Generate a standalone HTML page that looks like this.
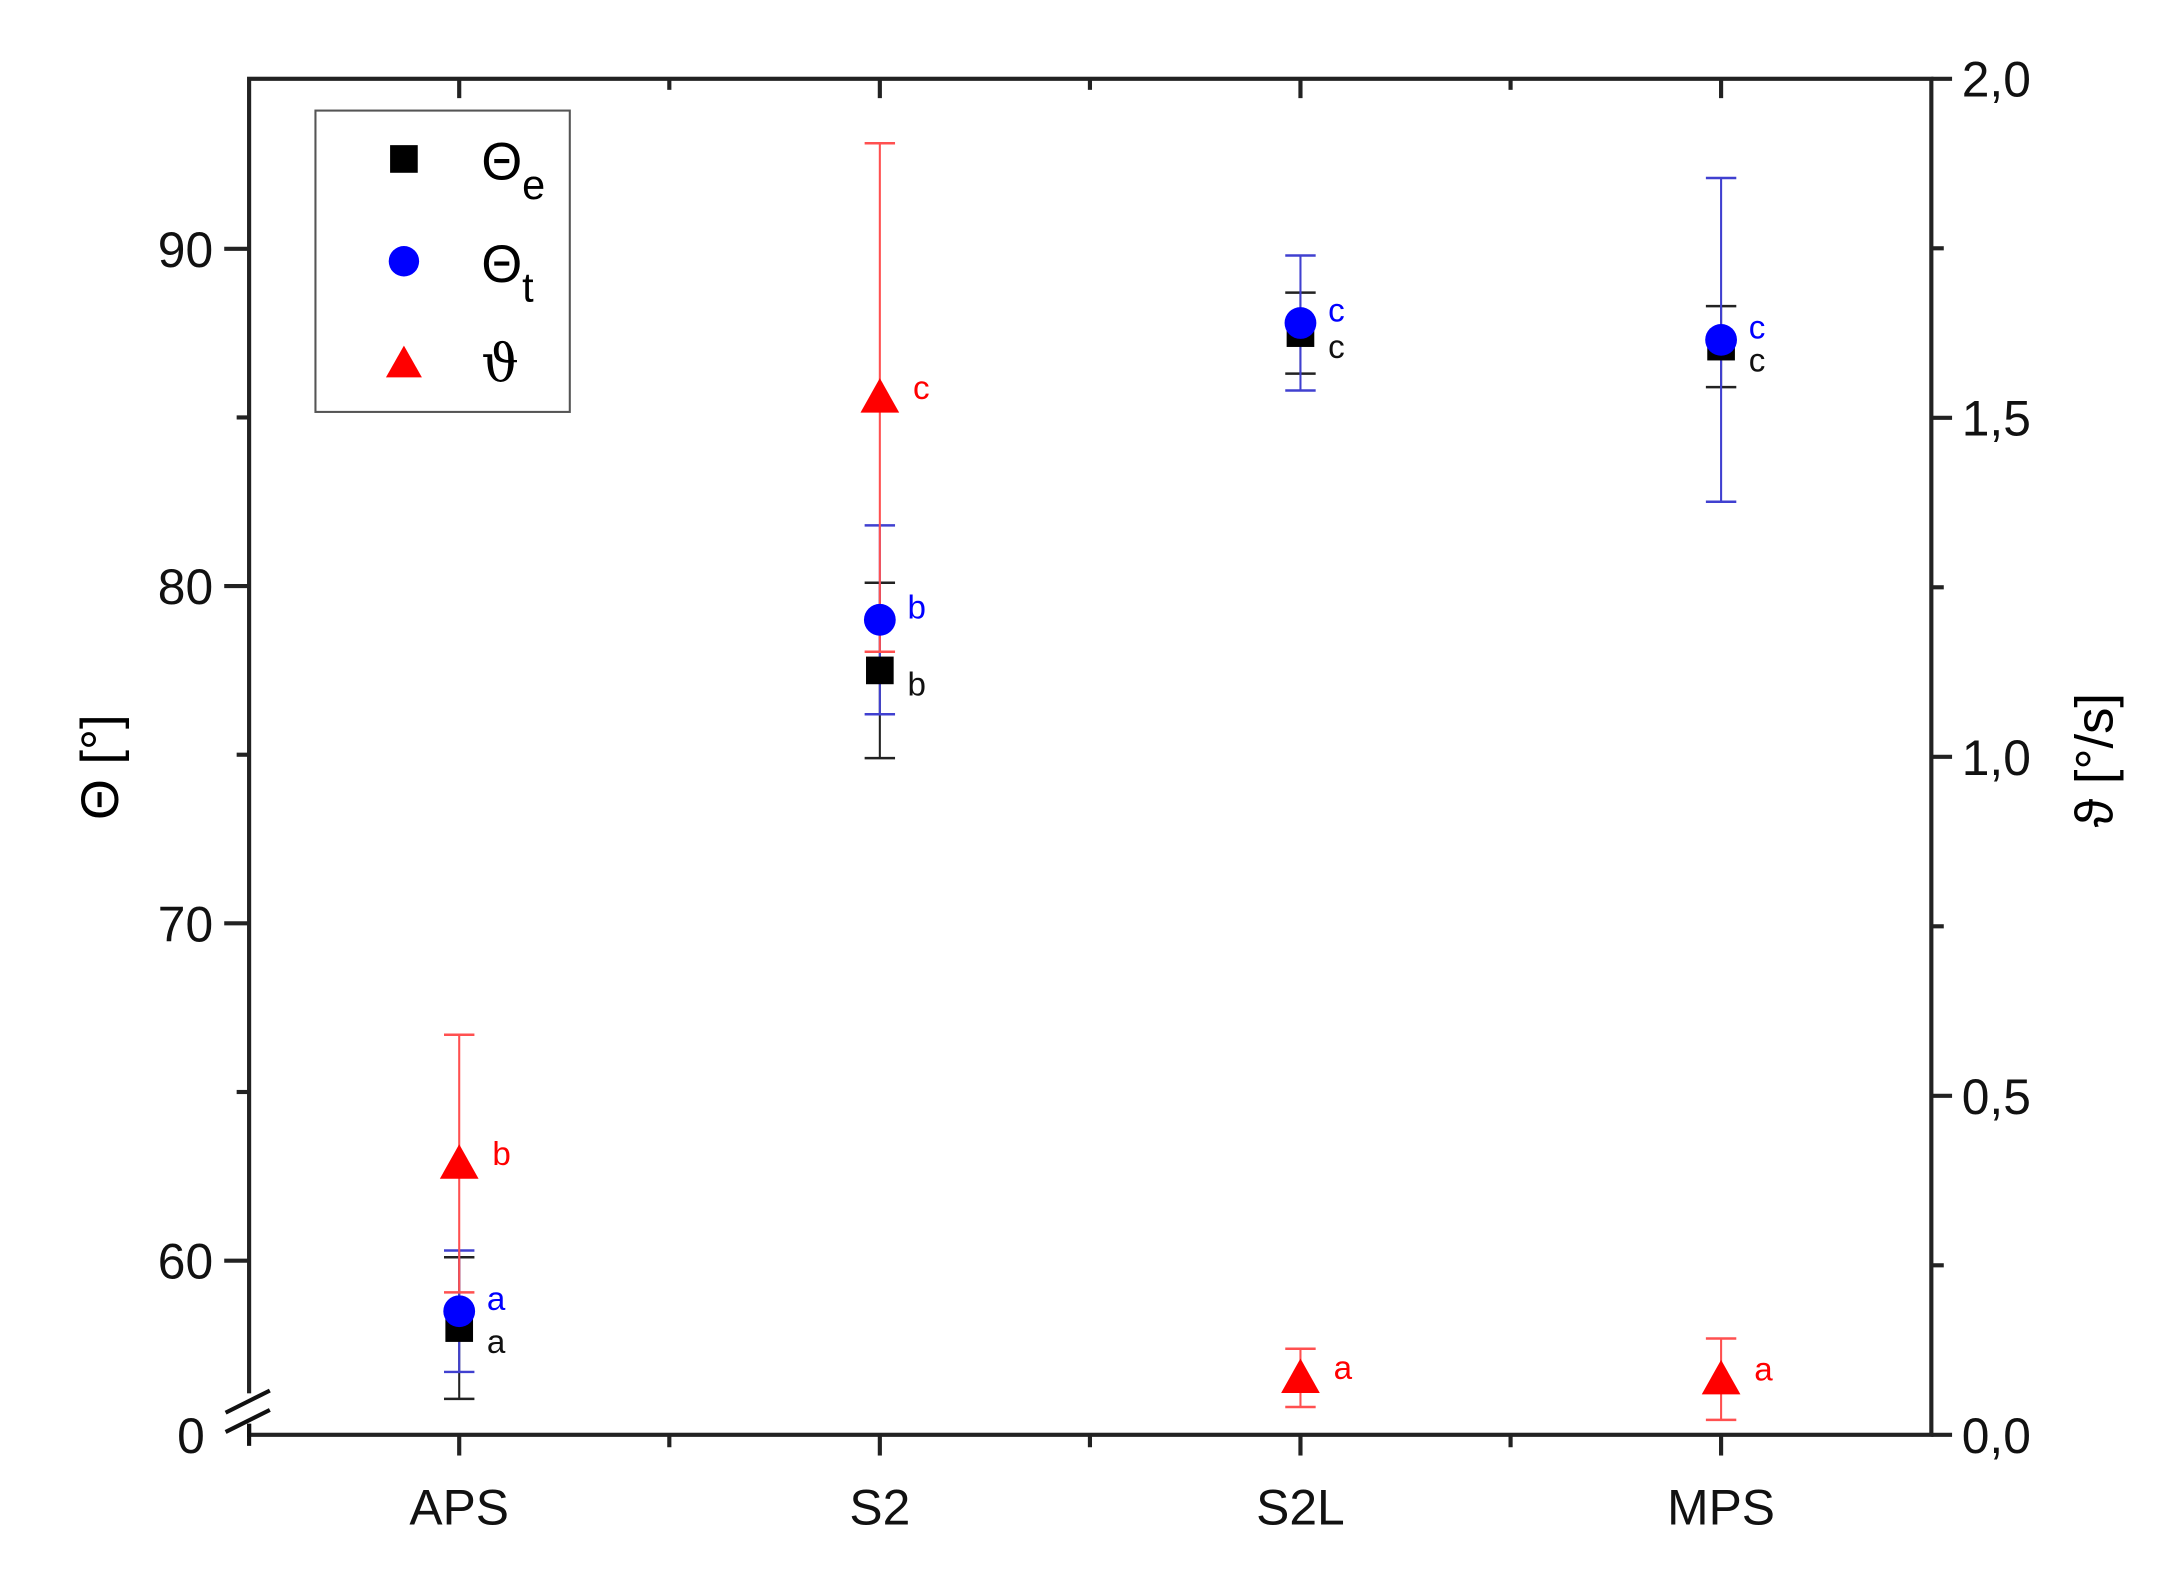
<!DOCTYPE html>
<html><head><meta charset="utf-8"><style>
html,body{margin:0;padding:0;background:#fff;}
svg{display:block;font-family:"Liberation Sans",sans-serif;}
</style></head><body>
<svg id="chart" width="2168" height="1591" viewBox="0 0 1568 1151" xmlns="http://www.w3.org/2000/svg">
<g id="axes"></g>
<g id="marks"></g>
<g id="legend">
<rect x="228" y="80" width="184" height="218" fill="#fff" stroke="#555" stroke-width="1.5"/>
<rect x="282" y="105" width="20" height="20" fill="#000"/>
<text x="348" y="130" font-size="38">Θ<tspan font-size="30" dy="14">e</tspan></text>
<circle cx="292" cy="189" r="11" fill="#0000ff"/>
<text x="348" y="204" font-size="38">Θ<tspan font-size="30" dy="14">t</tspan></text>
<polygon points="292,250 305,273 279,273" fill="#ff0000"/>
<text x="348" y="276" font-size="38" font-family="DejaVu Serif, serif">ϑ</text>
</g>
<text transform="translate(85,555) rotate(-90)" font-size="38" text-anchor="middle">Θ [°]</text>
<text transform="translate(1528,550) rotate(-90)" font-size="38" text-anchor="middle">ϑ [°/s]</text>
<script>
const categories=["APS","S2","S2L","MPS"];
const thetaE=[58.0,77.5,87.5,87.1];
const thetaEErr=[2.1,2.6,1.2,1.2];
const thetaT=[58.5,79.0,87.8,87.3];
const thetaTErr=[1.8,2.8,2.0,4.8];
const vartheta=[0.40,1.53,0.084,0.082];
const varthetaErr=[0.19,0.375,0.043,0.06];
const labelsE=["a","b","c","c"];
const labelsT=["a","b","c","c"];
const labelsV=["b","c","a","a"];
const leftTicks=[60,70,80,90];
const rightTicks=[0,0.5,1.0,1.5,2.0];

const NS="http://www.w3.org/2000/svg";
const L=180,R=1397,T=57,B=1038;
const xS=i=>332+i*304.3;
const yL=v=>912-(v-60)*24.4;
const yR=v=>B-v*490.5;
const ax=document.getElementById('axes'),mk=document.getElementById('marks');
function mkEl(p,tag,a){const e=document.createElementNS(NS,tag);for(const k in a)e.setAttribute(k,a[k]);p.appendChild(e);return e;}
function line(p,x1,y1,x2,y2,c,w){return mkEl(p,'line',{x1,y1,x2,y2,stroke:c,'stroke-width':w});}
function txt(p,x,y,s,size,anchor,fill){const t=mkEl(p,'text',{x,y,'font-size':size,'text-anchor':anchor,fill:fill||'#111'});t.textContent=s;return t;}

let fr=mkEl(ax,'rect',{x:L,y:T,width:R-L,height:B-T,fill:'none',stroke:'#222','stroke-width':3});


let wb=mkEl(ax,'rect',{x:170,y:1008,width:20,height:22,fill:'#fff'});


let b1=line(ax,163,1022,195,1006,'#111',3);


let b2=line(ax,163,1036,195,1020,'#111',3);


line(ax,L,1030,L,1046,'#111',3);
let z=txt(ax,148,1051,"0",36,'end');


leftTicks.forEach(v=>{const y=yL(v);
 const tk=line(ax,L-18,y,L,y,'#222',3);
 
 
 const t=txt(ax,L-26,y+13,String(v),36,'end');
 
 
 if(v<90){const m=line(ax,L-9,yL(v+5),L,yL(v+5),'#222',3);}
});
rightTicks.forEach(v=>{const y=yR(v);
 const tk=line(ax,R,y,R+15,y,'#222',3);
 
 
 const t=txt(ax,R+22,y+13,v.toFixed(1).replace('.',','),36,'start');
 
 
 if(v<2){const m=line(ax,R,yR(v+0.25),R+9,yR(v+0.25),'#222',3);}
});
categories.forEach((c,i)=>{const x=xS(i);
 const tk=line(ax,x,B,x,B+15,'#222',3);
 
 
 const tt=line(ax,x,T,x,T+14,'#222',3);
 
 
 const t=txt(ax,x,1103,c,36,'middle');
 
 
 if(i<3){const xm=x+152;
  const m1=line(ax,xm,B,xm,B+9,'#222',3);
  const m2=line(ax,xm,T,xm,T+8,'#222',3);}
});
function errbar(x,y1,y2,c,name){const g=mkEl(mk,'g',{stroke:c,'stroke-width':1.5});
 
 
 line(g,x,y1,x,y2,c,1.5);line(g,x-11,y1,x+11,y1,c,1.8);line(g,x-11,y2,x+11,y2,c,1.8);}
categories.forEach((c,i)=>{const x=xS(i);
 errbar(x,yL(thetaE[i]+thetaEErr[i]),yL(thetaE[i]-thetaEErr[i]),'#222','error-bar-theta-e');
 errbar(x,yL(thetaT[i]+thetaTErr[i]),yL(thetaT[i]-thetaTErr[i]),'#4040d0','error-bar-theta-t');
 errbar(x,yR(vartheta[i]+varthetaErr[i]),yR(vartheta[i]-varthetaErr[i]),'#ff5050','error-bar-vartheta');
});
categories.forEach((c,i)=>{const x=xS(i);
 const ye=yL(thetaE[i]);
 const s=mkEl(mk,'rect',{x:x-10,y:ye-10,width:20,height:20,fill:'#000'});
 
 
 const yt=yL(thetaT[i]);
 const ci=mkEl(mk,'circle',{cx:x,cy:yt,r:11.5,fill:'#0000ff'});
 
 
 const yv=yR(vartheta[i]);
 const tr=mkEl(mk,'polygon',{points:`${x},${yv-14} ${x+14},${yv+11} ${x-14},${yv+11}`,fill:'#ff0000'});
 
 
 const le=txt(mk,x+20,ye+18,labelsE[i],24,'start','#111');
 
 
 const lt=txt(mk,x+20,yt-1,labelsT[i],24,'start','#0000ff');
 
 
 const lv=txt(mk,x+24,yv+1,labelsV[i],24,'start','#ff0000');
 
 
});
</script>
</svg>
</body></html>
